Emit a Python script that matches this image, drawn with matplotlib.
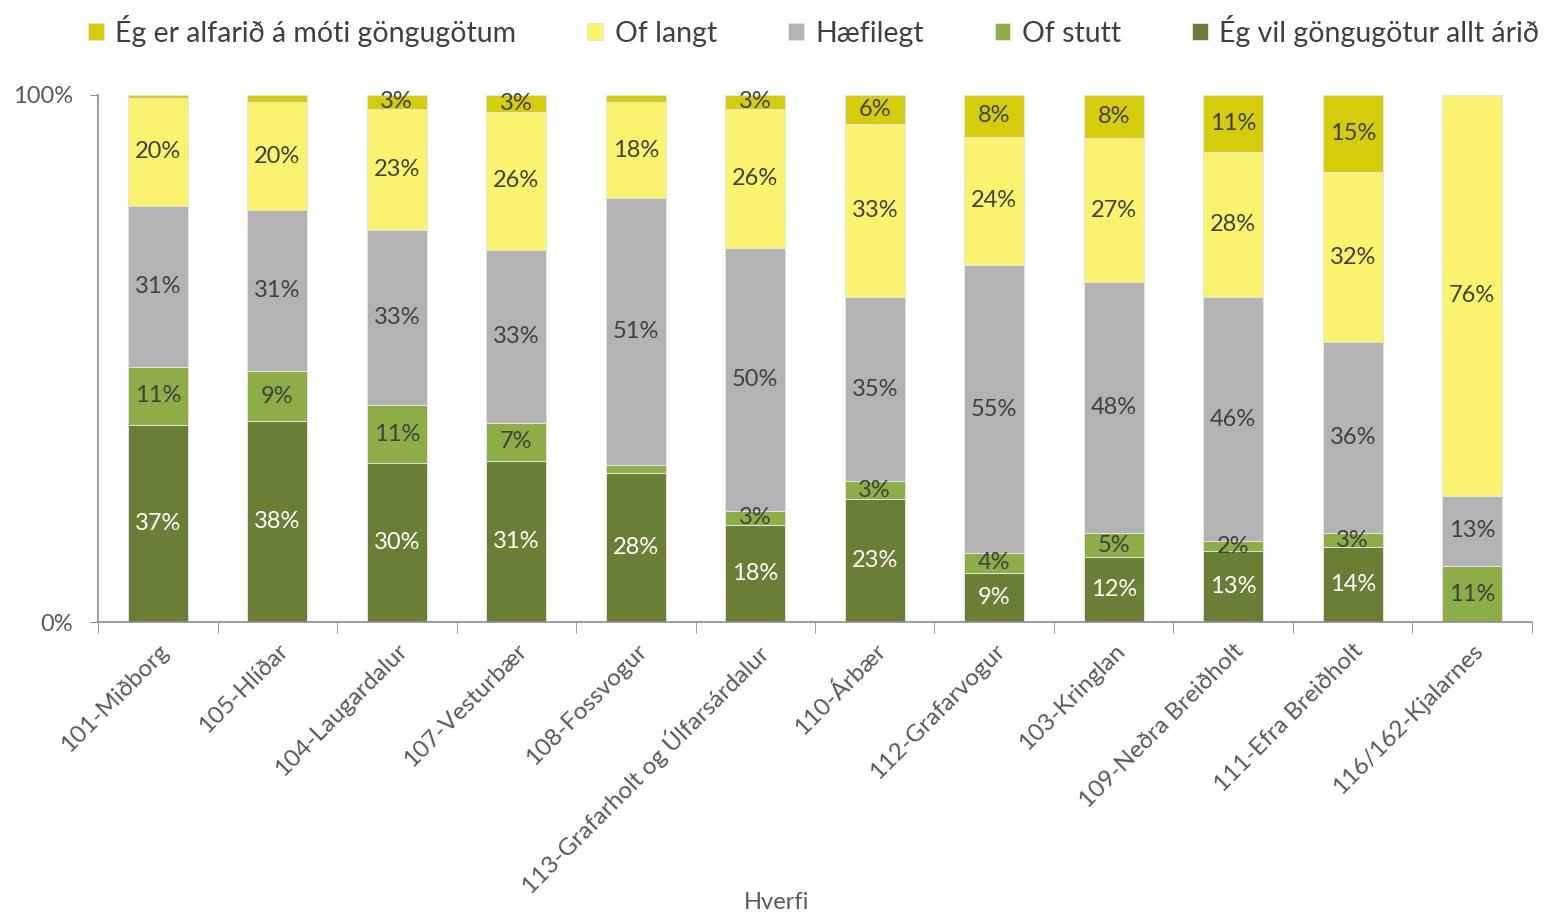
import matplotlib.pyplot as plt
import numpy as np

plt.rcParams['font.family'] = ['Lato', 'DejaVu Sans']

hverfi = ['101-Miðborg', '105-Hlíðar', '104-Laugardalur', '107-Vesturbær',
          '108-Fossvogur', '113-Grafarholt og Úlfarsárdalur', '110-Árbær',
          '112-Grafarvogur', '103-Kringlan', '109-Neðra Breiðholt',
          '111-Efra Breiðholt', '116/162-Kjalarnes']

# shares in % (bottom to top)
allt_arid = [37.4, 38.1, 30.2, 30.6, 28.3, 18.4, 23.3, 9.3, 12.3, 13.4, 14.2, 0.0]
of_stutt = [11.0, 9.4, 11.0, 7.2, 1.5, 2.7, 3.4, 3.8, 4.6, 1.9, 2.7, 10.6]
haefilegt = [30.6, 30.6, 33.2, 32.8, 50.6, 49.9, 34.9, 54.6, 47.6, 46.3, 36.2, 13.4]
of_langt = [20.4, 20.4, 23.1, 26.2, 18.3, 26.4, 32.8, 24.4, 27.3, 27.5, 32.3, 76.0]
a_moti = [0.6, 1.4, 2.6, 3.2, 1.3, 2.6, 5.6, 7.9, 8.2, 10.8, 14.6, 0.0]

series = [
    ('Ég vil göngugötur allt árið', allt_arid, '#6a7f35', 'white'),
    ('Of stutt', of_stutt, '#8dad47', '#404040'),
    ('Hæfilegt', haefilegt, '#b3b3b3', '#404040'),
    ('Of langt', of_langt, '#f9f36d', '#404040'),
    ('Ég er alfarið á móti göngugötum', a_moti, '#d5cd0b', '#404040'),
]

vals = np.array([s[1] for s in series])
totals = vals.sum(axis=0)
shares = vals / totals * 100

fig = plt.figure(figsize=(15.44, 9.13), dpi=100)
ax = fig.add_axes([0.0635, 0.3187, 0.9287, 0.5773])

x = np.arange(len(hverfi))
bottom = np.zeros(len(hverfi))
handles = []
for (name, raw, color, tcol), h in zip(series, shares):
    bars = ax.bar(x, h, 0.5, bottom=bottom, color=color, edgecolor='#e4e4e4',
                  linewidth=0.7, label=name)
    handles.append(bars)
    for xi, b, hi, r in zip(x, bottom, h, raw):
        if r >= 1.8:
            ax.text(xi, b + hi / 2, f'{round(r)}%', ha='center', va='center',
                    fontsize=17, color=tcol)
    bottom += h

ax.set_xlim(-0.5, len(hverfi) - 0.5)
ax.set_ylim(0, 100)
ax.set_yticks([0, 100])
ax.set_yticklabels(['0%', '100%'], fontsize=17, color='#595959')
ax.set_xticks(x)
ax.set_xticklabels(hverfi, rotation=45, ha='right', rotation_mode='anchor',
                   fontsize=17.5, color='#595959')
ax.tick_params(axis='x', length=0, pad=13)
ax.set_xticks(np.arange(-0.5, len(hverfi)), minor=True)
ax.tick_params(axis='x', which='minor', length=8, color='#8c8c8c')
ax.tick_params(axis='y', length=6, color='#8c8c8c', pad=12)

for s in ['top', 'right']:
    ax.spines[s].set_visible(False)
for s in ['left', 'bottom']:
    ax.spines[s].set_color('#8c8c8c')
    ax.spines[s].set_linewidth(1.2)

fig.text(0.503, 0.0, 'Hverfi', ha='center', va='bottom', fontsize=17,
         color='#595959')

leg_order = handles[::-1]
fig.legend(leg_order, [h.get_label() for h in leg_order], loc='upper center',
           bbox_to_anchor=(0.527, 1.012), ncol=5, frameon=False, fontsize=20.5,
           labelcolor='#404040', handlelength=0.55, handleheight=0.55,
           handletextpad=0.4, columnspacing=2.5)

fig.savefig('out.png', dpi=100)
